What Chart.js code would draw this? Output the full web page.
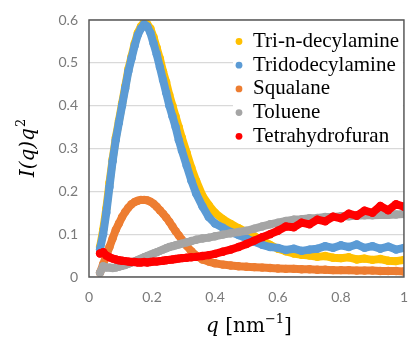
<!DOCTYPE html>
<html>
<head>
<meta charset="utf-8">
<script src="https://cdn.jsdelivr.net/npm/chart.js@4.4.1/dist/chart.umd.min.js"></script>
<style>
  html, body { margin: 0; padding: 0; background: #fff; overflow: hidden; }
  #wrap { width: 413px; height: 340px; overflow: hidden; }
</style>
</head>
<body>
<div id="wrap"><canvas id="c" width="420" height="340"></canvas></div>
<script>
// q values (nm^-1) shared by all series
const qValues = [0.035, 0.045, 0.055, 0.065, 0.075, 0.085, 0.095, 0.105, 0.115, 0.125, 0.135, 0.145, 0.155, 0.165, 0.175, 0.185, 0.195, 0.205, 0.215, 0.225, 0.235, 0.245, 0.255, 0.265, 0.275, 0.285, 0.295,
  0.31, 0.325, 0.34, 0.36, 0.38, 0.40,
  0.425, 0.45, 0.475, 0.5, 0.525, 0.55, 0.575, 0.6, 0.625, 0.65, 0.675, 0.7, 0.725, 0.75, 0.775, 0.8, 0.825, 0.85, 0.875, 0.9, 0.925, 0.95, 0.975, 1.0];

const triDecylamine = [0.07, 0.11, 0.16, 0.22, 0.275, 0.325, 0.365, 0.405, 0.445, 0.485, 0.515, 0.545, 0.57, 0.585, 0.595, 0.59, 0.58, 0.56, 0.535, 0.51, 0.48, 0.455, 0.425, 0.40, 0.375, 0.35, 0.325,
  0.29, 0.255, 0.225, 0.19, 0.168, 0.15,
  0.135, 0.124, 0.114, 0.105, 0.095, 0.085, 0.075, 0.066, 0.06, 0.055, 0.052, 0.05, 0.047, 0.049, 0.045, 0.044, 0.046, 0.041, 0.043, 0.04, 0.042, 0.038, 0.037, 0.04];

const triDodecylamine = [0.065, 0.10, 0.15, 0.21, 0.27, 0.32, 0.36, 0.40, 0.44, 0.48, 0.51, 0.54, 0.565, 0.58, 0.59, 0.585, 0.57, 0.545, 0.52, 0.49, 0.46, 0.43, 0.40, 0.375, 0.35, 0.32, 0.295,
  0.26, 0.225, 0.195, 0.165, 0.14, 0.125,
  0.115, 0.105, 0.098, 0.09, 0.082, 0.075, 0.07, 0.068, 0.063, 0.066, 0.061, 0.064, 0.066, 0.072, 0.068, 0.074, 0.07, 0.076, 0.068, 0.072, 0.066, 0.071, 0.064, 0.068];

const squalane = [0.01, 0.03, 0.05, 0.07, 0.09, 0.11, 0.125, 0.14, 0.152, 0.162, 0.17, 0.175, 0.178, 0.18, 0.18, 0.179, 0.176, 0.171, 0.164, 0.156, 0.148, 0.139, 0.129, 0.118, 0.107, 0.097, 0.087,
  0.073, 0.06, 0.05, 0.041, 0.036, 0.032,
  0.029, 0.027, 0.025, 0.024, 0.023, 0.022, 0.021, 0.02, 0.019, 0.019, 0.018, 0.018, 0.017, 0.017, 0.016, 0.016, 0.016, 0.015, 0.015, 0.015, 0.014, 0.014, 0.014, 0.013];

const toluene = [0.01, 0.025, 0.022, 0.022, 0.021, 0.022, 0.024, 0.026, 0.028, 0.031, 0.034, 0.037, 0.04, 0.043, 0.046, 0.049, 0.052, 0.055, 0.058, 0.061, 0.064, 0.067, 0.07, 0.072, 0.074, 0.076, 0.078,
  0.081, 0.084, 0.087, 0.09, 0.092, 0.095,
  0.099, 0.102, 0.105, 0.108, 0.113, 0.118, 0.123, 0.127, 0.131, 0.134, 0.135, 0.137, 0.138, 0.14, 0.14, 0.142, 0.142, 0.143, 0.144, 0.144, 0.145, 0.145, 0.146, 0.147];

const tetrahydrofuran = [0.055, 0.058, 0.05, 0.046, 0.043, 0.041, 0.039, 0.038, 0.037, 0.036, 0.035, 0.035, 0.034, 0.034, 0.035, 0.034, 0.035, 0.036, 0.036, 0.037, 0.038, 0.039, 0.04, 0.041, 0.042, 0.043, 0.044,
  0.045, 0.046, 0.047, 0.049, 0.051, 0.054,
  0.059, 0.064, 0.07, 0.077, 0.085, 0.093, 0.1, 0.108, 0.118, 0.116, 0.127, 0.123, 0.134, 0.13, 0.141, 0.137, 0.148, 0.143, 0.155, 0.15, 0.166, 0.156, 0.17, 0.164];

const seriesNames = ['Tri-n-decylamine', 'Tridodecylamine', 'Squalane', 'Toluene', 'Tetrahydrofuran'];
const seriesData = [triDecylamine, triDodecylamine, squalane, toluene, tetrahydrofuran];
const colors = ['#FFC000', '#5B9BD5', '#ED7D31', '#A5A5A5', '#FF0000'];

const xTicks = [0, 0.2, 0.4, 0.6, 0.8, 1];
const yTicks = [0, 0.1, 0.2, 0.3, 0.4, 0.5, 0.6];

const datasets = seriesData.map((vals, i) => ({
  label: seriesNames[i],
  data: qValues.map((q, j) => ({ x: q, y: vals[j] })),
  showLine: true,
  borderColor: colors[i],
  backgroundColor: colors[i],
  borderWidth: 8,
  borderJoinStyle: 'round',
  borderCapStyle: 'round',
  pointRadius: 4.2,
  pointBorderWidth: 0,
  order: seriesData.length - 1 - i   // later series drawn on top, like Excel
}));

const decor = {
  id: 'decor',
  afterDatasetsDraw(chart) {
    const { ctx, chartArea: a } = chart;
    ctx.save();
    // legend box inside the plot
    ctx.fillStyle = '#fff';
    ctx.fillRect(233, a.top + 4, a.right - 234, 122);
    ctx.font = '21px "Liberation Serif"';
    ctx.textBaseline = 'alphabetic';
    seriesNames.forEach((name, i) => {
      const base = 47 + i * 23.7;
      ctx.fillStyle = colors[i];
      ctx.beginPath();
      ctx.arc(239, base - 5.5, 3.4, 0, Math.PI * 2);
      ctx.fill();
      ctx.fillStyle = '#000';
      ctx.fillText(name, 253, base);
    });
    // frame
    ctx.strokeStyle = '#595959';
    ctx.lineWidth = 1.5;
    ctx.strokeRect(a.left, a.top, a.right - a.left, a.bottom - a.top);
    ctx.restore();
  },
  afterDraw(chart) {
    const { ctx } = chart;
    ctx.save();
    ctx.fillStyle = '#000';
    ctx.textBaseline = 'alphabetic';
    // y title: I(q)q^2
    ctx.translate(34, 148);
    ctx.rotate(-Math.PI / 2);
    const mainY = 'italic 20px "DejaVu Serif"';
    const supF = '13px "DejaVu Serif"';
    ctx.font = mainY;
    const w1 = ctx.measureText('I(q)q').width;
    ctx.font = supF;
    const w2 = ctx.measureText('2').width;
    const x0 = -(w1 + w2 + 1) / 2;
    ctx.font = mainY;
    ctx.fillText('I(q)q', x0, 0);
    ctx.font = supF;
    ctx.fillText('2', x0 + w1 + 1, -9);
    ctx.restore();

    // x title: q [nm^-1]
    ctx.save();
    ctx.fillStyle = '#000';
    const it = 'italic 20px "DejaVu Serif"';
    const rg = '20px "DejaVu Serif"';
    const sp = '13px "DejaVu Serif"';
    const parts = [['q', it, 0], [' [nm', rg, 0], ['\u22121', sp, -9], [']', rg, 0]];
    let total = 0;
    parts.forEach(p => { ctx.font = p[1]; total += ctx.measureText(p[0]).width; });
    let x = 249 - total / 2;
    parts.forEach(p => {
      ctx.font = p[1];
      ctx.fillText(p[0], x, 332 + p[2]);
      x += ctx.measureText(p[0]).width;
    });
    ctx.restore();
  }
};

function draw() {
  new Chart(document.getElementById('c'), {
    type: 'scatter',
    data: { datasets },
    options: {
      responsive: false,
      animation: false,
      devicePixelRatio: 1,
      layout: { padding: { top: 20, right: 10, left: 0, bottom: 0 } },
      plugins: {
        legend: { display: false },
        tooltip: { enabled: false }
      },
      scales: {
        x: {
          type: 'linear',
          min: 0,
          max: 1,
          afterFit(scale) { scale.height = 63; },
          afterBuildTicks(scale) { scale.ticks = xTicks.map(v => ({ value: v })); },
          grid: { display: false, drawTicks: false },
          border: { display: false },
          ticks: {
            padding: 12,
            color: '#7a7a7a',
            font: { family: 'Lato', size: 14 },
            maxRotation: 0,
            callback: v => String(v)
          }
        },
        y: {
          min: 0,
          max: 0.6,
          afterFit(scale) { scale.width = 89; },
          afterBuildTicks(scale) { scale.ticks = yTicks.map(v => ({ value: v })); },
          grid: { color: '#d9d9d9', lineWidth: 1.2, drawTicks: false },
          border: { display: false },
          ticks: {
            padding: 11,
            color: '#7a7a7a',
            font: { family: 'Lato', size: 14 },
            callback: v => String(v)
          }
        }
      }
    },
    plugins: [decor]
  });
}

Promise.all([
  document.fonts.load('21px "Liberation Serif"'),
  document.fonts.load('14px Lato'),
  document.fonts.load('20px "DejaVu Serif"'),
  document.fonts.load('italic 20px "DejaVu Serif"')
]).then(draw, draw);
</script>
</body>
</html>
